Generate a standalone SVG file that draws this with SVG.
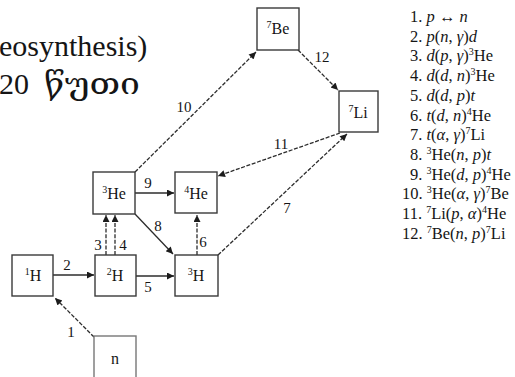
<svg xmlns="http://www.w3.org/2000/svg" width="515" height="377" viewBox="0 0 515 377">
<style>
text{font-family:"Liberation Serif","DejaVu Serif",serif;fill:#151515}
.big{font-size:30px}
.node rect{fill:#fff;stroke:#3a3a3a;stroke-width:1.4}
.node text{font-size:16px;text-anchor:middle}
.sup{font-size:10px}
.lbl{font-size:15px;text-anchor:middle}
.leg{font-size:16.5px}
.i{font-style:italic}
.c{fill:none;stroke:#2c2c2c;stroke-width:1.3;marker-end:url(#ah)}
.d{stroke-dasharray:4 1.6}
</style>
<defs>
<marker id="ah" viewBox="0 0 10 10" refX="10" refY="5" markerWidth="9" markerHeight="7" markerUnits="userSpaceOnUse" orient="auto">
<path d="M0,0 L10,5 L0,10 z" fill="#1c1c1c"/>
</marker>
</defs>
<text class="big" x="-1" y="56">eosynthesis)</text>
<text class="big" x="-1" y="94">20</text>
<text class="big" x="44" y="94" textLength="96" lengthAdjust="spacingAndGlyphs">წუთი</text>
<g id="connectors">
<line class="c d" x1="94" y1="337" x2="55" y2="298"/>
<line class="c" x1="53" y1="275" x2="94" y2="275"/>
<line class="c" x1="136" y1="276" x2="174" y2="276"/>
<line class="c d" x1="106" y1="255" x2="106" y2="215"/>
<line class="c d" x1="115" y1="255" x2="115" y2="215"/>
<line class="c d" x1="197" y1="255" x2="197" y2="215"/>
<line class="c" x1="135" y1="214" x2="173" y2="254"/>
<line class="c" x1="135" y1="193" x2="174" y2="193"/>
<line class="c d" x1="135" y1="172" x2="256" y2="52"/>
<line class="c d" x1="298" y1="50" x2="338" y2="90"/>
<line class="c d" x1="218" y1="255" x2="347" y2="134"/>
<line class="c d" x1="340" y1="133" x2="218" y2="176"/>
<text class="lbl" x="71" y="337">1</text>
<text class="lbl" x="67" y="270">2</text>
<text class="lbl" x="98" y="250">3</text>
<text class="lbl" x="123" y="250">4</text>
<text class="lbl" x="148" y="292">5</text>
<text class="lbl" x="203" y="247">6</text>
<text class="lbl" x="287" y="213">7</text>
<text class="lbl" x="158" y="231">8</text>
<text class="lbl" x="148" y="188">9</text>
<text class="lbl" x="184" y="112">10</text>
<text class="lbl" x="281" y="149">11</text>
<text class="lbl" x="322" y="62">12</text>
</g>
<g id="n1H" class="node"><rect x="12" y="255" width="41" height="41"/><text x="33" y="281"><tspan class="sup" dy="-6">1</tspan><tspan dy="6">H</tspan></text></g>
<g id="n2H" class="node"><rect x="95" y="255" width="41" height="41"/><text x="115" y="281"><tspan class="sup" dy="-6">2</tspan><tspan dy="6">H</tspan></text></g>
<g id="n3H" class="node"><rect x="175" y="255" width="43" height="41"/><text x="196" y="281"><tspan class="sup" dy="-6">3</tspan><tspan dy="6">H</tspan></text></g>
<g id="nn" class="node"><rect x="94" y="336" width="42" height="46" style="stroke:#777"/><text x="115" y="364">n</text></g>
<g id="n3He" class="node"><rect x="93" y="172" width="42" height="42"/><text x="114" y="199"><tspan class="sup" dy="-6">3</tspan><tspan dy="6">He</tspan></text></g>
<g id="n4He" class="node"><rect x="175" y="172" width="42" height="41"/><text x="196" y="199"><tspan class="sup" dy="-6">4</tspan><tspan dy="6">He</tspan></text></g>
<g id="n7Be" class="node"><rect x="257" y="8" width="42" height="42"/><text x="278" y="34"><tspan class="sup" dy="-6">7</tspan><tspan dy="6">Be</tspan></text></g>
<g id="n7Li" class="node"><rect x="339" y="91" width="39" height="41"/><text x="358" y="118"><tspan class="sup" dy="-6">7</tspan><tspan dy="6">Li</tspan></text></g>
<g id="legend" class="leg">
<text class="leg" x="410" y="22">1. <tspan class="i">p</tspan> ↔ <tspan class="i">n</tspan></text>
<text class="leg" x="410" y="41.7">2. <tspan class="i">p</tspan>(<tspan class="i">n</tspan>, <tspan class="i">γ</tspan>)<tspan class="i">d</tspan></text>
<text class="leg" x="410" y="61.4">3. <tspan class="i">d</tspan>(<tspan class="i">p</tspan>, <tspan class="i">γ</tspan>)<tspan class="sup" dy="-6">3</tspan><tspan dy="6">He</tspan></text>
<text class="leg" x="410" y="81.1">4. <tspan class="i">d</tspan>(<tspan class="i">d</tspan>, <tspan class="i">n</tspan>)<tspan class="sup" dy="-6">3</tspan><tspan dy="6">He</tspan></text>
<text class="leg" x="410" y="100.8">5. <tspan class="i">d</tspan>(<tspan class="i">d</tspan>, <tspan class="i">p</tspan>)<tspan class="i">t</tspan></text>
<text class="leg" x="410" y="120.5">6. <tspan class="i">t</tspan>(<tspan class="i">d</tspan>, <tspan class="i">n</tspan>)<tspan class="sup" dy="-6">4</tspan><tspan dy="6">He</tspan></text>
<text class="leg" x="410" y="140.2">7. <tspan class="i">t</tspan>(<tspan class="i">α</tspan>, <tspan class="i">γ</tspan>)<tspan class="sup" dy="-6">7</tspan><tspan dy="6">Li</tspan></text>
<text class="leg" x="410" y="159.9">8. <tspan class="sup" dy="-6">3</tspan><tspan dy="6">He(</tspan><tspan class="i">n</tspan>, <tspan class="i">p</tspan>)<tspan class="i">t</tspan></text>
<text class="leg" x="410" y="179.6">9. <tspan class="sup" dy="-6">3</tspan><tspan dy="6">He(</tspan><tspan class="i">d</tspan>, <tspan class="i">p</tspan>)<tspan class="sup" dy="-6">4</tspan><tspan dy="6">He</tspan></text>
<text class="leg" x="402" y="199.3">10. <tspan class="sup" dy="-6">3</tspan><tspan dy="6">He(</tspan><tspan class="i">α</tspan>, <tspan class="i">γ</tspan>)<tspan class="sup" dy="-6">7</tspan><tspan dy="6">Be</tspan></text>
<text class="leg" x="402" y="219">11. <tspan class="sup" dy="-6">7</tspan><tspan dy="6">Li(</tspan><tspan class="i">p</tspan>, <tspan class="i">α</tspan>)<tspan class="sup" dy="-6">4</tspan><tspan dy="6">He</tspan></text>
<text class="leg" x="402" y="238.7">12. <tspan class="sup" dy="-6">7</tspan><tspan dy="6">Be(</tspan><tspan class="i">n</tspan>, <tspan class="i">p</tspan>)<tspan class="sup" dy="-6">7</tspan><tspan dy="6">Li</tspan></text>
</g>
</svg>
